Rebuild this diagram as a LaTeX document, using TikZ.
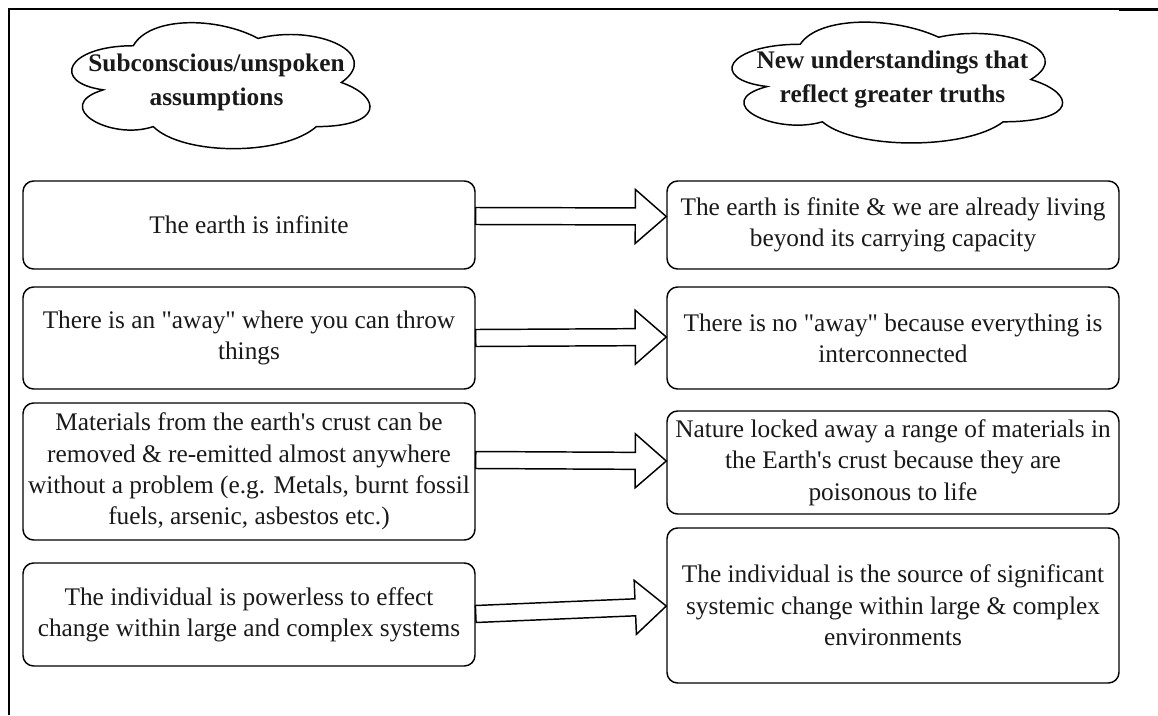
\documentclass[tikz,border=0pt]{standalone}
\usepackage{fontspec}
\defaultfontfeatures[\rmfamily]{}
\setmainfont{Liberation Serif}
\usetikzlibrary{calc}

% wide hollow arrow from #1 to #2
\newcommand\blockarrow[2]{%
  \coordinate (ba-h) at ($(#2)!23.25pt!(#1)$);
  \draw[blockarr]
    ($(#1)!6.375pt!90:(#2)$) -- ($(ba-h)!6.375pt!90:(#2)$)
    -- ($(ba-h)!20.25pt!90:(#2)$) -- (#2)
    -- ($(ba-h)!20.25pt!-90:(#2)$) -- ($(ba-h)!6.375pt!-90:(#2)$)
    -- ($(#1)!6.375pt!-90:(#2)$) -- cycle;}

% cloud outline in unit coordinates of its bounding box
\newcommand\cloudoutline{%
  \draw[cloudline] (0.25,0.25) .. controls (0.05,0.25) and (0,0.5) .. (0.16,0.55)
    .. controls (0,0.66) and (0.18,0.9) .. (0.31,0.8)
    .. controls (0.4,1) and (0.7,1) .. (0.8,0.8)
    .. controls (1,0.8) and (1,0.6) .. (0.875,0.5)
    .. controls (1,0.3) and (0.8,0.1) .. (0.625,0.2)
    .. controls (0.5,0.05) and (0.3,0.05) .. (0.25,0.25) -- cycle;}

\begin{document}
\begin{tikzpicture}[x=0.75pt,y=-0.75pt,
  box/.style={draw, line width=1.1pt, rounded corners=8pt, minimum width=339pt,
    inner sep=1pt, align=center, text=black!90,
    font=\rmfamily\fontsize{19}{23.5}\selectfont},
  cloudline/.style={line width=1.1pt},
  cloudtext/.style={align=center, inner sep=0pt, text=black!90,
    font=\rmfamily\bfseries\fontsize{19}{25}\selectfont},
  blockarr/.style={draw, line width=1.1pt, line join=miter},
  frameline/.style={line width=1.5pt}]
\useasboundingbox (0,0) rectangle (1158,715);

% page frame
\draw[frameline] (8.5,715) -- (8.5,8.5) -- (1158,8.5);
\draw[line width=2.2pt] (1119,9.5) -- (1158,9.5);

% headings
\begin{scope}[shift={(50,9)}, x=249.75pt, y=-110.25pt]
  \cloudoutline
  \node[cloudtext] (c1) at (0.5,0.5) {Subconscious/unspoken\\assumptions};
\end{scope}
\begin{scope}[shift={(708,9)}, x=276.75pt, y=-105.75pt]
  \cloudoutline
  \node[cloudtext] (c2) at (0.5,0.5) {New understandings that\\reflect greater truths};
\end{scope}

% left column
\node[box, minimum height=66pt] (L1) at (249,225) {The earth is infinite};
\node[box, minimum height=76.5pt] (L2) at (249,338)
  {There is an "away" where you can throw\\things};
\node[box, minimum height=102.75pt] (L3) at (249,471.5)
  {Materials from the earth's crust can be\\removed \& re-emitted almost anywhere\\without a problem (e.g. Metals, burnt fossil\\fuels, arsenic, asbestos etc.)};
\node[box, minimum height=77.25pt] (L4) at (249,614.5)
  {The individual is powerless to effect\\change within large and complex systems};

% right column
\node[box, minimum height=66pt] (R1) at (893,225)
  {The earth is finite \& we are already living\\beyond its carrying capacity};
\node[box, minimum height=76.5pt] (R2) at (893,338)
  {There is no "away" because everything is\\interconnected};
\node[box, minimum height=77.25pt] (R3) at (893,462.5)
  {Nature locked away a range of materials in\\the Earth's crust because they are\\poisonous to life};
\node[box, minimum height=116.25pt] (R4) at (893,605.5)
  {The individual is the source of significant\\systemic change within large \& complex\\environments};

% arrows
\coordinate (a1s) at ($(L1.east)+(0,-9)$);
\coordinate (a1e) at ($(R1.west)+(0,-8.5)$);
\coordinate (a2s) at (L2.east);
\coordinate (a2e) at ($(R2.west)+(0,-1)$);
\coordinate (a3s) at ($(L3.east)+(0,-11.5)$);
\coordinate (a3e) at ($(R3.west)+(0,-1.5)$);
\coordinate (a4s) at ($(L4.east)+(0,-0.5)$);
\coordinate (a4e) at ($(R4.west)+(0,0.5)$);
\blockarrow{a1s}{a1e}
\blockarrow{a2s}{a2e}
\blockarrow{a3s}{a3e}
\blockarrow{a4s}{a4e}
\end{tikzpicture}
\end{document}
